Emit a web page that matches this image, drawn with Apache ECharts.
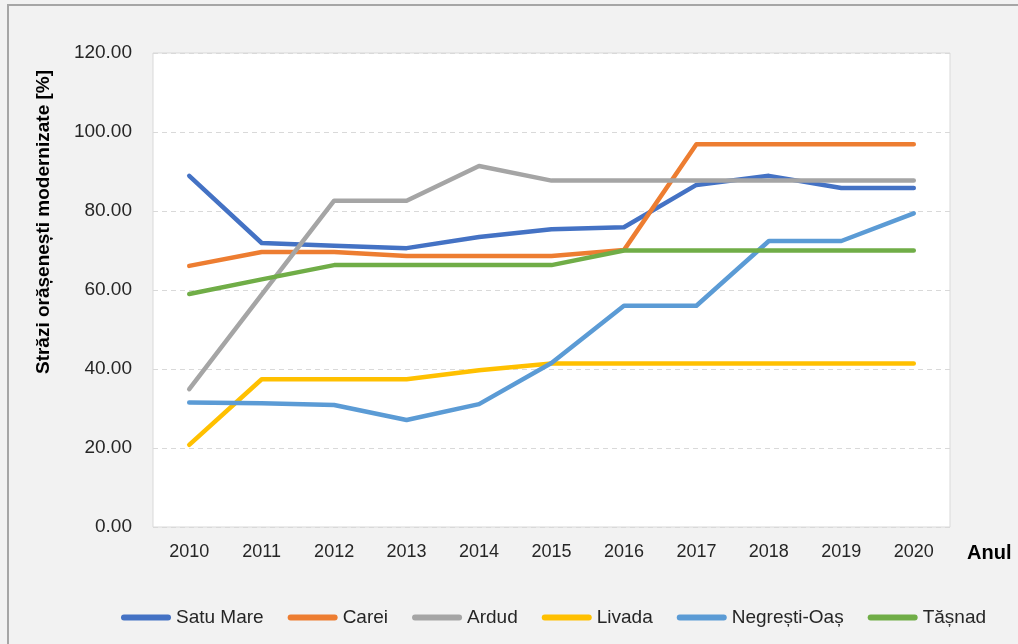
<!DOCTYPE html>
<html>
<head>
<meta charset="utf-8">
<script src="https://cdn.jsdelivr.net/npm/echarts@6/dist/echarts.min.js"></script>
<style>
  html, body { margin: 0; padding: 0; background: #f2f2f2; }
  #chart { width: 1018px; height: 644px; }
</style>
</head>
<body>
<div id="chart"></div>
<script>
// years on the x axis
const years = ['2010', '2011', '2012', '2013', '2014', '2015', '2016', '2017', '2018', '2019', '2020'];

// share of modernised streets per town [%]
const satuMare = [88.9, 71.9, 71.2, 70.6, 73.4, 75.4, 75.9, 86.6, 88.9, 85.8, 85.8];
const carei = [66.1, 69.6, 69.6, 68.6, 68.6, 68.6, 70.1, 96.9, 96.9, 96.9, 96.9];
const ardud = [34.9, 58.8, 82.6, 82.6, 91.4, 87.7, 87.7, 87.7, 87.7, 87.7, 87.7];
const livada = [20.8, 37.4, 37.4, 37.4, 39.7, 41.4, 41.4, 41.4, 41.4, 41.4, 41.4];
const negrestiOas = [31.5, 31.3, 30.9, 27.1, 31.1, 41.5, 56.0, 56.0, 72.4, 72.4, 79.4];
const tasnad = [59.0, 62.7, 66.3, 66.3, 66.3, 66.3, 70.0, 70.0, 70.0, 70.0, 70.0];

const seriesNames = ['Satu Mare', 'Carei', 'Ardud', 'Livada', 'Negrești-Oaș', 'Tășnad'];
const seriesData = [satuMare, carei, ardud, livada, negrestiOas, tasnad];
const colors = ['#4472c4', '#ed7d31', '#a5a5a5', '#ffc000', '#5b9bd5', '#70ad47'];

const font = '"Liberation Sans", Arial, sans-serif';

const chart = echarts.init(document.getElementById('chart'));

let option = {
    backgroundColor: '#f2f2f2',
    animation: false,
    color: colors,
    graphic: [
        {
            type: 'rect',
            shape: { x: 8, y: 5, width: 1030, height: 660 },
            style: { fill: 'none', stroke: '#a6a6a6', lineWidth: 2 },
            silent: true
        },
        {
            type: 'text',
            x: 44,
            y: 222,
            rotation: Math.PI / 2,
            style: {
                text: 'Străzi orășenești modernizate [%]',
                fontFamily: font,
                fontSize: 19,
                fontWeight: 'bold',
                fill: '#000',
                align: 'center',
                verticalAlign: 'middle'
            }
        }
    ],
    grid: {
        left: 153,
        right: 68,
        top: 53,
        bottom: 117,
        show: true,
        backgroundColor: '#ffffff',
        borderColor: '#d9d9d9',
        borderWidth: 1
    },
    legend: {
        left: 116,
        top: 603,
        width: 900,
        itemWidth: 50,
        itemHeight: 6,
        itemGap: 24,
        icon: 'path://M3,0 H47 A3,3 0 0 1 47,6 H3 A3,3 0 0 1 3,0 Z',
        textStyle: {
            fontFamily: font,
            fontSize: 19,
            color: '#262626'
        },
        data: seriesNames
    },
    xAxis: {
        type: 'category',
        data: years,
        boundaryGap: true,
        name: 'Anul',
        nameLocation: 'end',
        nameGap: 17,
        nameTextStyle: {
            fontFamily: font,
            fontSize: 20,
            fontWeight: 'bold',
            color: '#000',
            align: 'left',
            verticalAlign: 'top',
            padding: [16, 0, 0, 0]
        },
        axisLine: { show: false },
        axisTick: { show: false },
        axisLabel: {
            margin: 16,
            fontFamily: font,
            fontSize: 18,
            color: '#262626'
        }
    },
    yAxis: {
        type: 'value',
        min: 0,
        max: 120,
        interval: 20,
        axisLine: { show: false },
        axisTick: { show: false },
        axisLabel: {
            margin: 21,
            fontFamily: font,
            fontSize: 19,
            color: '#262626',
            formatter: v => v.toFixed(2)
        },
        splitLine: {
            lineStyle: { color: '#d9d9d9', type: [5, 4], width: 1 }
        }
    },
    series: seriesNames.map((name, i) => ({
        name: name,
        type: 'line',
        data: seriesData[i],
        showSymbol: false,
        symbol: 'none',
        lineStyle: { width: 4.5, cap: 'round', join: 'round', color: colors[i] },
        itemStyle: { color: colors[i] }
    }))
};

chart.setOption(option);
</script>
</body>
</html>
